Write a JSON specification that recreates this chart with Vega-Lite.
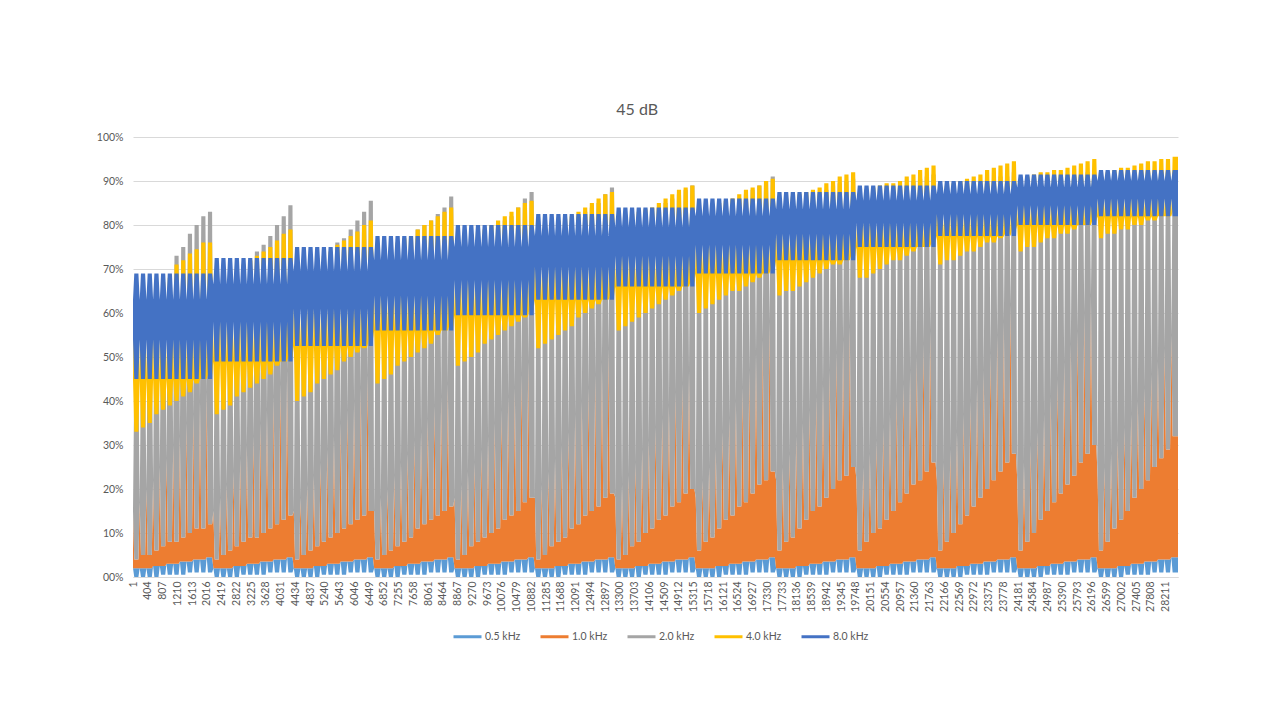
{
  "$schema": "https://vega.github.io/schema/vega-lite/v6.json",
  "description": "45 dB: five frequency series drawn as dense bands; per cycle one gap row and two full rows.",
  "width": 1045,
  "height": 440,
  "autosize": {"type": "none"},
  "padding": {"left": 133, "top": 137, "right": 102, "bottom": 143},
  "title": {"text": "45 dB", "anchor": "middle", "frame": "bounds", "fontSize": 16, "font": "Lato", "fontWeight": "normal", "color": "#595959", "offset": 14},
  "data": {"values": [
{"i":1,"a":2,"A":2,"B":15,"C":15,"d":45,"D":45,"e":54,"E":63},
{"i":36,"a":0,"A":2,"B":4,"C":45,"d":33,"D":64,"e":45,"E":69},
{"i":149,"a":0,"A":2,"B":4,"C":45,"d":33,"D":64,"e":45,"E":69},
{"i":184,"a":2,"A":2,"B":17,"C":17,"d":45,"D":45,"e":54,"E":63},
{"i":219,"a":0,"A":2,"B":5,"C":48,"d":34,"D":64.5,"e":45,"E":69},
{"i":332,"a":0,"A":2,"B":5,"C":48,"d":34,"D":64.5,"e":45,"E":69},
{"i":367,"a":2,"A":2,"B":20,"C":20,"d":45,"D":45,"e":54,"E":63},
{"i":402,"a":0,"A":2,"B":5,"C":52,"d":35,"D":65,"e":45,"E":69},
{"i":515,"a":0,"A":2,"B":5,"C":52,"d":35,"D":65,"e":45,"E":69},
{"i":550,"a":2.5,"A":2.5,"B":22,"C":22,"d":45,"D":45,"e":54,"E":63},
{"i":585,"a":0,"A":2.5,"B":6,"C":55,"d":37,"D":66,"e":45,"E":69},
{"i":698,"a":0,"A":2.5,"B":6,"C":55,"d":37,"D":66,"e":45,"E":69},
{"i":733,"a":2.5,"A":2.5,"B":25,"C":25,"d":45,"D":45,"e":54,"E":63},
{"i":768,"a":0.5,"A":2.5,"B":7,"C":59,"d":38,"D":67,"e":45,"E":69},
{"i":881,"a":0.5,"A":2.5,"B":7,"C":59,"d":38,"D":67,"e":45,"E":69},
{"i":916,"a":3,"A":3,"B":27,"C":27,"d":45,"D":45,"e":54,"E":63},
{"i":951,"a":0.5,"A":3,"B":8,"C":62,"d":39,"D":68,"e":45,"E":69},
{"i":1064,"a":0.5,"A":3,"B":8,"C":62,"d":39,"D":68,"e":45,"E":69},
{"i":1099,"a":3,"A":3,"B":30,"C":30,"d":45,"D":45,"e":54,"E":63},
{"i":1134,"a":0.5,"A":3,"B":8,"C":73,"d":40,"D":71,"e":45,"E":69},
{"i":1247,"a":0.5,"A":3,"B":8,"C":73,"d":40,"D":71,"e":45,"E":69},
{"i":1282,"a":3.5,"A":3.5,"B":32,"C":32,"d":45,"D":45,"e":54,"E":63},
{"i":1317,"a":0.5,"A":3.5,"B":9,"C":75,"d":41,"D":72,"e":45,"E":69},
{"i":1430,"a":0.5,"A":3.5,"B":9,"C":75,"d":41,"D":72,"e":45,"E":69},
{"i":1465,"a":3.5,"A":3.5,"B":35,"C":35,"d":45,"D":45,"e":54,"E":63},
{"i":1500,"a":1,"A":3.5,"B":10,"C":78,"d":42,"D":73.5,"e":45,"E":69},
{"i":1613,"a":1,"A":3.5,"B":10,"C":78,"d":42,"D":73.5,"e":45,"E":69},
{"i":1648,"a":4,"A":4,"B":37,"C":37,"d":45,"D":45,"e":54,"E":63},
{"i":1683,"a":1,"A":4,"B":11,"C":80,"d":44,"D":74.5,"e":45,"E":69},
{"i":1796,"a":1,"A":4,"B":11,"C":80,"d":44,"D":74.5,"e":45,"E":69},
{"i":1831,"a":4,"A":4,"B":40,"C":40,"d":45,"D":45,"e":54,"E":63},
{"i":1866,"a":1,"A":4,"B":11,"C":82,"d":45,"D":76,"e":45,"E":69},
{"i":1979,"a":1,"A":4,"B":11,"C":82,"d":45,"D":76,"e":45,"E":69},
{"i":2014,"a":4.5,"A":4.5,"B":42,"C":42,"d":45,"D":45,"e":54,"E":63},
{"i":2049,"a":1,"A":4.5,"B":12,"C":83,"d":46,"D":76,"e":45,"E":69},
{"i":2162,"a":1,"A":4.5,"B":12,"C":83,"d":46,"D":76,"e":45,"E":69},

{"i":2197,"a":2,"A":2,"B":15,"C":15,"d":49,"D":49,"e":58,"E":66.5},
{"i":2232,"a":0,"A":2,"B":4,"C":49,"d":37,"D":68,"e":49,"E":72.5},
{"i":2345,"a":0,"A":2,"B":4,"C":49,"d":37,"D":68,"e":49,"E":72.5},
{"i":2380,"a":2,"A":2,"B":18,"C":18,"d":49,"D":49,"e":58,"E":66.5},
{"i":2415,"a":0,"A":2,"B":5,"C":52,"d":38,"D":68.5,"e":49,"E":72.5},
{"i":2528,"a":0,"A":2,"B":5,"C":52,"d":38,"D":68.5,"e":49,"E":72.5},
{"i":2563,"a":2,"A":2,"B":21,"C":21,"d":49,"D":49,"e":58,"E":66.5},
{"i":2598,"a":0,"A":2,"B":6,"C":55,"d":39,"D":69,"e":49,"E":72.5},
{"i":2711,"a":0,"A":2,"B":6,"C":55,"d":39,"D":69,"e":49,"E":72.5},
{"i":2746,"a":2.5,"A":2.5,"B":24,"C":24,"d":49,"D":49,"e":58,"E":66.5},
{"i":2781,"a":0,"A":2.5,"B":7,"C":59,"d":41,"D":70,"e":49,"E":72.5},
{"i":2894,"a":0,"A":2.5,"B":7,"C":59,"d":41,"D":70,"e":49,"E":72.5},
{"i":2929,"a":2.5,"A":2.5,"B":27,"C":27,"d":49,"D":49,"e":58,"E":66.5},
{"i":2964,"a":0.5,"A":2.5,"B":8,"C":62,"d":42,"D":71,"e":49,"E":72.5},
{"i":3077,"a":0.5,"A":2.5,"B":8,"C":62,"d":42,"D":71,"e":49,"E":72.5},
{"i":3112,"a":3,"A":3,"B":30,"C":30,"d":49,"D":49,"e":58,"E":66.5},
{"i":3147,"a":0.5,"A":3,"B":9,"C":65,"d":43,"D":72,"e":49,"E":72.5},
{"i":3260,"a":0.5,"A":3,"B":9,"C":65,"d":43,"D":72,"e":49,"E":72.5},
{"i":3295,"a":3,"A":3,"B":32,"C":32,"d":49,"D":49,"e":58,"E":66.5},
{"i":3330,"a":0.5,"A":3,"B":9,"C":74,"d":44,"D":73,"e":49,"E":72.5},
{"i":3443,"a":0.5,"A":3,"B":9,"C":74,"d":44,"D":73,"e":49,"E":72.5},
{"i":3478,"a":3.5,"A":3.5,"B":35,"C":35,"d":49,"D":49,"e":58,"E":66.5},
{"i":3513,"a":0.5,"A":3.5,"B":10,"C":75.5,"d":45,"D":74,"e":49,"E":72.5},
{"i":3626,"a":0.5,"A":3.5,"B":10,"C":75.5,"d":45,"D":74,"e":49,"E":72.5},
{"i":3661,"a":3.5,"A":3.5,"B":38,"C":38,"d":49,"D":49,"e":58,"E":66.5},
{"i":3696,"a":1,"A":3.5,"B":11,"C":77.5,"d":46,"D":75,"e":49,"E":72.5},
{"i":3809,"a":1,"A":3.5,"B":11,"C":77.5,"d":46,"D":75,"e":49,"E":72.5},
{"i":3844,"a":4,"A":4,"B":41,"C":41,"d":49,"D":49,"e":58,"E":66.5},
{"i":3879,"a":1,"A":4,"B":12,"C":80,"d":48,"D":76.5,"e":49,"E":72.5},
{"i":3992,"a":1,"A":4,"B":12,"C":80,"d":48,"D":76.5,"e":49,"E":72.5},
{"i":4027,"a":4,"A":4,"B":44,"C":44,"d":49,"D":49,"e":58,"E":66.5},
{"i":4062,"a":1,"A":4,"B":13,"C":82,"d":49,"D":78,"e":49,"E":72.5},
{"i":4175,"a":1,"A":4,"B":13,"C":82,"d":49,"D":78,"e":49,"E":72.5},
{"i":4210,"a":4.5,"A":4.5,"B":47,"C":47,"d":49,"D":49,"e":58,"E":66.5},
{"i":4245,"a":1,"A":4.5,"B":14,"C":84.5,"d":50,"D":79,"e":49,"E":72.5},
{"i":4358,"a":1,"A":4.5,"B":14,"C":84.5,"d":50,"D":79,"e":49,"E":72.5},

{"i":4393,"a":2,"A":2,"B":15,"C":15,"d":52.5,"D":52.5,"e":61,"E":69.5},
{"i":4428,"a":0,"A":2,"B":4,"C":52,"d":40,"D":70,"e":52.5,"E":75},
{"i":4541,"a":0,"A":2,"B":4,"C":52,"d":40,"D":70,"e":52.5,"E":75},
{"i":4576,"a":2,"A":2,"B":18,"C":18,"d":52.5,"D":52.5,"e":61,"E":69.5},
{"i":4611,"a":0,"A":2,"B":5,"C":55,"d":41,"D":71,"e":52.5,"E":75},
{"i":4724,"a":0,"A":2,"B":5,"C":55,"d":41,"D":71,"e":52.5,"E":75},
{"i":4759,"a":2,"A":2,"B":21,"C":21,"d":52.5,"D":52.5,"e":61,"E":69.5},
{"i":4794,"a":0,"A":2,"B":6,"C":58,"d":42,"D":72,"e":52.5,"E":75},
{"i":4907,"a":0,"A":2,"B":6,"C":58,"d":42,"D":72,"e":52.5,"E":75},
{"i":4942,"a":2.5,"A":2.5,"B":23,"C":23,"d":52.5,"D":52.5,"e":61,"E":69.5},
{"i":4977,"a":0,"A":2.5,"B":7,"C":61,"d":44,"D":72.5,"e":52.5,"E":75},
{"i":5090,"a":0,"A":2.5,"B":7,"C":61,"d":44,"D":72.5,"e":52.5,"E":75},
{"i":5125,"a":2.5,"A":2.5,"B":26,"C":26,"d":52.5,"D":52.5,"e":61,"E":69.5},
{"i":5160,"a":0.5,"A":2.5,"B":8,"C":64,"d":45,"D":73,"e":52.5,"E":75},
{"i":5273,"a":0.5,"A":2.5,"B":8,"C":64,"d":45,"D":73,"e":52.5,"E":75},
{"i":5308,"a":3,"A":3,"B":29,"C":29,"d":52.5,"D":52.5,"e":61,"E":69.5},
{"i":5343,"a":0.5,"A":3,"B":9,"C":67,"d":46,"D":74,"e":52.5,"E":75},
{"i":5456,"a":0.5,"A":3,"B":9,"C":67,"d":46,"D":74,"e":52.5,"E":75},
{"i":5491,"a":3,"A":3,"B":32,"C":32,"d":52.5,"D":52.5,"e":61,"E":69.5},
{"i":5526,"a":0.5,"A":3,"B":10,"C":76,"d":47,"D":75.5,"e":52.5,"E":75},
{"i":5639,"a":0.5,"A":3,"B":10,"C":76,"d":47,"D":75.5,"e":52.5,"E":75},
{"i":5674,"a":3.5,"A":3.5,"B":35,"C":35,"d":52.5,"D":52.5,"e":61,"E":69.5},
{"i":5709,"a":0.5,"A":3.5,"B":11,"C":77,"d":49,"D":76.5,"e":52.5,"E":75},
{"i":5822,"a":0.5,"A":3.5,"B":11,"C":77,"d":49,"D":76.5,"e":52.5,"E":75},
{"i":5857,"a":3.5,"A":3.5,"B":38,"C":38,"d":52.5,"D":52.5,"e":61,"E":69.5},
{"i":5892,"a":1,"A":3.5,"B":12,"C":79,"d":50,"D":77.5,"e":52.5,"E":75},
{"i":6005,"a":1,"A":3.5,"B":12,"C":79,"d":50,"D":77.5,"e":52.5,"E":75},
{"i":6040,"a":4,"A":4,"B":40,"C":40,"d":52.5,"D":52.5,"e":61,"E":69.5},
{"i":6075,"a":1,"A":4,"B":13,"C":81,"d":51,"D":78.5,"e":52.5,"E":75},
{"i":6188,"a":1,"A":4,"B":13,"C":81,"d":51,"D":78.5,"e":52.5,"E":75},
{"i":6223,"a":4,"A":4,"B":43,"C":43,"d":52.5,"D":52.5,"e":61,"E":69.5},
{"i":6258,"a":1,"A":4,"B":14,"C":83,"d":52,"D":80,"e":52.5,"E":75},
{"i":6371,"a":1,"A":4,"B":14,"C":83,"d":52,"D":80,"e":52.5,"E":75},
{"i":6406,"a":4.5,"A":4.5,"B":46,"C":46,"d":52.5,"D":52.5,"e":61,"E":69.5},
{"i":6441,"a":1,"A":4.5,"B":15,"C":85.5,"d":54,"D":81,"e":52.5,"E":75},
{"i":6554,"a":1,"A":4.5,"B":15,"C":85.5,"d":54,"D":81,"e":52.5,"E":75},

{"i":6589,"a":2,"A":2,"B":15,"C":15,"d":56,"D":56,"e":64,"E":72},
{"i":6624,"a":0,"A":2,"B":4,"C":56,"d":44,"D":73,"e":56,"E":77.5},
{"i":6737,"a":0,"A":2,"B":4,"C":56,"d":44,"D":73,"e":56,"E":77.5},
{"i":6772,"a":2,"A":2,"B":18,"C":18,"d":56,"D":56,"e":64,"E":72},
{"i":6807,"a":0,"A":2,"B":5,"C":59,"d":45,"D":74,"e":56,"E":77.5},
{"i":6920,"a":0,"A":2,"B":5,"C":59,"d":45,"D":74,"e":56,"E":77.5},
{"i":6955,"a":2,"A":2,"B":20,"C":20,"d":56,"D":56,"e":64,"E":72},
{"i":6990,"a":0,"A":2,"B":6,"C":62,"d":46,"D":75,"e":56,"E":77.5},
{"i":7103,"a":0,"A":2,"B":6,"C":62,"d":46,"D":75,"e":56,"E":77.5},
{"i":7138,"a":2.5,"A":2.5,"B":23,"C":23,"d":56,"D":56,"e":64,"E":72},
{"i":7173,"a":0,"A":2.5,"B":7,"C":64,"d":48,"D":76,"e":56,"E":77.5},
{"i":7286,"a":0,"A":2.5,"B":7,"C":64,"d":48,"D":76,"e":56,"E":77.5},
{"i":7321,"a":2.5,"A":2.5,"B":26,"C":26,"d":56,"D":56,"e":64,"E":72},
{"i":7356,"a":0.5,"A":2.5,"B":8,"C":67,"d":49,"D":77,"e":56,"E":77.5},
{"i":7469,"a":0.5,"A":2.5,"B":8,"C":67,"d":49,"D":77,"e":56,"E":77.5},
{"i":7504,"a":3,"A":3,"B":28,"C":28,"d":56,"D":56,"e":64,"E":72},
{"i":7539,"a":0.5,"A":3,"B":9,"C":70,"d":50,"D":77.5,"e":56,"E":77.5},
{"i":7652,"a":0.5,"A":3,"B":9,"C":70,"d":50,"D":77.5,"e":56,"E":77.5},
{"i":7687,"a":3,"A":3,"B":31,"C":31,"d":56,"D":56,"e":64,"E":72},
{"i":7722,"a":0.5,"A":3,"B":11,"C":79,"d":51,"D":79,"e":56,"E":77.5},
{"i":7835,"a":0.5,"A":3,"B":11,"C":79,"d":51,"D":79,"e":56,"E":77.5},
{"i":7870,"a":3.5,"A":3.5,"B":33,"C":33,"d":56,"D":56,"e":64,"E":72},
{"i":7905,"a":0.5,"A":3.5,"B":12,"C":80,"d":52,"D":80,"e":56,"E":77.5},
{"i":8018,"a":0.5,"A":3.5,"B":12,"C":80,"d":52,"D":80,"e":56,"E":77.5},
{"i":8053,"a":3.5,"A":3.5,"B":36,"C":36,"d":56,"D":56,"e":64,"E":72},
{"i":8088,"a":1,"A":3.5,"B":13,"C":81,"d":53,"D":81,"e":56,"E":77.5},
{"i":8201,"a":1,"A":3.5,"B":13,"C":81,"d":53,"D":81,"e":56,"E":77.5},
{"i":8236,"a":4,"A":4,"B":39,"C":39,"d":56,"D":56,"e":64,"E":72},
{"i":8271,"a":1,"A":4,"B":14,"C":82.5,"d":55,"D":82,"e":56,"E":77.5},
{"i":8384,"a":1,"A":4,"B":14,"C":82.5,"d":55,"D":82,"e":56,"E":77.5},
{"i":8419,"a":4,"A":4,"B":41,"C":41,"d":56,"D":56,"e":64,"E":72},
{"i":8454,"a":1,"A":4,"B":15,"C":84,"d":56,"D":83,"e":56,"E":77.5},
{"i":8567,"a":1,"A":4,"B":15,"C":84,"d":56,"D":83,"e":56,"E":77.5},
{"i":8602,"a":4.5,"A":4.5,"B":44,"C":44,"d":56,"D":56,"e":64,"E":72},
{"i":8637,"a":1,"A":4.5,"B":16,"C":86.5,"d":57,"D":84,"e":56,"E":77.5},
{"i":8750,"a":1,"A":4.5,"B":16,"C":86.5,"d":57,"D":84,"e":56,"E":77.5},

{"i":8785,"a":2,"A":2,"B":18,"C":18,"d":59.5,"D":59.5,"e":67.5,"E":75},
{"i":8820,"a":0,"A":2,"B":4,"C":60,"d":48,"D":76,"e":59.5,"E":80},
{"i":8933,"a":0,"A":2,"B":4,"C":60,"d":48,"D":76,"e":59.5,"E":80},
{"i":8968,"a":2,"A":2,"B":21,"C":21,"d":59.5,"D":59.5,"e":67.5,"E":75},
{"i":9003,"a":0,"A":2,"B":5,"C":62,"d":49,"D":77,"e":59.5,"E":80},
{"i":9116,"a":0,"A":2,"B":5,"C":62,"d":49,"D":77,"e":59.5,"E":80},
{"i":9151,"a":2,"A":2,"B":24,"C":24,"d":59.5,"D":59.5,"e":67.5,"E":75},
{"i":9186,"a":0,"A":2,"B":7,"C":65,"d":50,"D":78,"e":59.5,"E":80},
{"i":9299,"a":0,"A":2,"B":7,"C":65,"d":50,"D":78,"e":59.5,"E":80},
{"i":9334,"a":2.5,"A":2.5,"B":26,"C":26,"d":59.5,"D":59.5,"e":67.5,"E":75},
{"i":9369,"a":0,"A":2.5,"B":8,"C":67,"d":51,"D":78.5,"e":59.5,"E":80},
{"i":9482,"a":0,"A":2.5,"B":8,"C":67,"d":51,"D":78.5,"e":59.5,"E":80},
{"i":9517,"a":2.5,"A":2.5,"B":29,"C":29,"d":59.5,"D":59.5,"e":67.5,"E":75},
{"i":9552,"a":0.5,"A":2.5,"B":9,"C":70,"d":53,"D":79,"e":59.5,"E":80},
{"i":9665,"a":0.5,"A":2.5,"B":9,"C":70,"d":53,"D":79,"e":59.5,"E":80},
{"i":9700,"a":3,"A":3,"B":32,"C":32,"d":59.5,"D":59.5,"e":67.5,"E":75},
{"i":9735,"a":0.5,"A":3,"B":10,"C":72,"d":54,"D":80,"e":59.5,"E":80},
{"i":9848,"a":0.5,"A":3,"B":10,"C":72,"d":54,"D":80,"e":59.5,"E":80},
{"i":9883,"a":3,"A":3,"B":35,"C":35,"d":59.5,"D":59.5,"e":67.5,"E":75},
{"i":9918,"a":0.5,"A":3,"B":11,"C":80,"d":55,"D":81,"e":59.5,"E":80},
{"i":10031,"a":0.5,"A":3,"B":11,"C":80,"d":55,"D":81,"e":59.5,"E":80},
{"i":10066,"a":3.5,"A":3.5,"B":38,"C":38,"d":59.5,"D":59.5,"e":67.5,"E":75},
{"i":10101,"a":0.5,"A":3.5,"B":13,"C":81,"d":56,"D":82,"e":59.5,"E":80},
{"i":10214,"a":0.5,"A":3.5,"B":13,"C":81,"d":56,"D":82,"e":59.5,"E":80},
{"i":10249,"a":3.5,"A":3.5,"B":41,"C":41,"d":59.5,"D":59.5,"e":67.5,"E":75},
{"i":10284,"a":1,"A":3.5,"B":14,"C":82,"d":57,"D":83,"e":59.5,"E":80},
{"i":10397,"a":1,"A":3.5,"B":14,"C":82,"d":57,"D":83,"e":59.5,"E":80},
{"i":10432,"a":4,"A":4,"B":43,"C":43,"d":59.5,"D":59.5,"e":67.5,"E":75},
{"i":10467,"a":1,"A":4,"B":15,"C":84,"d":58,"D":84,"e":59.5,"E":80},
{"i":10580,"a":1,"A":4,"B":15,"C":84,"d":58,"D":84,"e":59.5,"E":80},
{"i":10615,"a":4,"A":4,"B":46,"C":46,"d":59.5,"D":59.5,"e":67.5,"E":75},
{"i":10650,"a":1,"A":4,"B":17,"C":86,"d":59,"D":85,"e":59.5,"E":80},
{"i":10763,"a":1,"A":4,"B":17,"C":86,"d":59,"D":85,"e":59.5,"E":80},
{"i":10798,"a":4.5,"A":4.5,"B":49,"C":49,"d":59.5,"D":59.5,"e":67.5,"E":75},
{"i":10833,"a":1,"A":4.5,"B":18,"C":87.5,"d":61,"D":85.5,"e":59.5,"E":80},
{"i":10946,"a":1,"A":4.5,"B":18,"C":87.5,"d":61,"D":85.5,"e":59.5,"E":80},

{"i":10981,"a":2,"A":2,"B":18,"C":18,"d":63,"D":63,"e":70.5,"E":77.5},
{"i":11016,"a":0,"A":2,"B":4,"C":64,"d":52,"D":79,"e":63,"E":82.5},
{"i":11129,"a":0,"A":2,"B":4,"C":64,"d":52,"D":79,"e":63,"E":82.5},
{"i":11164,"a":2,"A":2,"B":21,"C":21,"d":63,"D":63,"e":70.5,"E":77.5},
{"i":11199,"a":0,"A":2,"B":5,"C":66,"d":53,"D":80,"e":63,"E":82.5},
{"i":11312,"a":0,"A":2,"B":5,"C":66,"d":53,"D":80,"e":63,"E":82.5},
{"i":11347,"a":2,"A":2,"B":24,"C":24,"d":63,"D":63,"e":70.5,"E":77.5},
{"i":11382,"a":0,"A":2,"B":7,"C":68,"d":54,"D":80.5,"e":63,"E":82.5},
{"i":11495,"a":0,"A":2,"B":7,"C":68,"d":54,"D":80.5,"e":63,"E":82.5},
{"i":11530,"a":2.5,"A":2.5,"B":27,"C":27,"d":63,"D":63,"e":70.5,"E":77.5},
{"i":11565,"a":0,"A":2.5,"B":8,"C":71,"d":55,"D":81,"e":63,"E":82.5},
{"i":11678,"a":0,"A":2.5,"B":8,"C":71,"d":55,"D":81,"e":63,"E":82.5},
{"i":11713,"a":2.5,"A":2.5,"B":30,"C":30,"d":63,"D":63,"e":70.5,"E":77.5},
{"i":11748,"a":0.5,"A":2.5,"B":9,"C":73,"d":56,"D":81.5,"e":63,"E":82.5},
{"i":11861,"a":0.5,"A":2.5,"B":9,"C":73,"d":56,"D":81.5,"e":63,"E":82.5},
{"i":11896,"a":3,"A":3,"B":33,"C":33,"d":63,"D":63,"e":70.5,"E":77.5},
{"i":11931,"a":0.5,"A":3,"B":11,"C":75,"d":57,"D":82,"e":63,"E":82.5},
{"i":12044,"a":0.5,"A":3,"B":11,"C":75,"d":57,"D":82,"e":63,"E":82.5},
{"i":12079,"a":3,"A":3,"B":37,"C":37,"d":63,"D":63,"e":70.5,"E":77.5},
{"i":12114,"a":0.5,"A":3,"B":12,"C":82,"d":59,"D":83,"e":63,"E":82.5},
{"i":12227,"a":0.5,"A":3,"B":12,"C":82,"d":59,"D":83,"e":63,"E":82.5},
{"i":12262,"a":3.5,"A":3.5,"B":40,"C":40,"d":63,"D":63,"e":70.5,"E":77.5},
{"i":12297,"a":0.5,"A":3.5,"B":14,"C":83,"d":60,"D":84,"e":63,"E":82.5},
{"i":12410,"a":0.5,"A":3.5,"B":14,"C":83,"d":60,"D":84,"e":63,"E":82.5},
{"i":12445,"a":3.5,"A":3.5,"B":43,"C":43,"d":63,"D":63,"e":70.5,"E":77.5},
{"i":12480,"a":1,"A":3.5,"B":15,"C":84,"d":61,"D":85,"e":63,"E":82.5},
{"i":12593,"a":1,"A":3.5,"B":15,"C":84,"d":61,"D":85,"e":63,"E":82.5},
{"i":12628,"a":4,"A":4,"B":46,"C":46,"d":63,"D":63,"e":70.5,"E":77.5},
{"i":12663,"a":1,"A":4,"B":16,"C":85,"d":62,"D":86,"e":63,"E":82.5},
{"i":12776,"a":1,"A":4,"B":16,"C":85,"d":62,"D":86,"e":63,"E":82.5},
{"i":12811,"a":4,"A":4,"B":49,"C":49,"d":63,"D":63,"e":70.5,"E":77.5},
{"i":12846,"a":1,"A":4,"B":18,"C":87,"d":63,"D":87,"e":63,"E":82.5},
{"i":12959,"a":1,"A":4,"B":18,"C":87,"d":63,"D":87,"e":63,"E":82.5},
{"i":12994,"a":4.5,"A":4.5,"B":52,"C":52,"d":63,"D":63,"e":70.5,"E":77.5},
{"i":13029,"a":1,"A":4.5,"B":19,"C":88.5,"d":64,"D":87.5,"e":63,"E":82.5},
{"i":13142,"a":1,"A":4.5,"B":19,"C":88.5,"d":64,"D":87.5,"e":63,"E":82.5},

{"i":13177,"a":2,"A":2,"B":18,"C":18,"d":66,"D":66,"e":73,"E":79.5},
{"i":13212,"a":0,"A":2,"B":4,"C":68,"d":56,"D":81,"e":66,"E":84},
{"i":13325,"a":0,"A":2,"B":4,"C":68,"d":56,"D":81,"e":66,"E":84},
{"i":13360,"a":2,"A":2,"B":21,"C":21,"d":66,"D":66,"e":73,"E":79.5},
{"i":13395,"a":0,"A":2,"B":5,"C":70,"d":57,"D":82,"e":66,"E":84},
{"i":13508,"a":0,"A":2,"B":5,"C":70,"d":57,"D":82,"e":66,"E":84},
{"i":13543,"a":2,"A":2,"B":23,"C":23,"d":66,"D":66,"e":73,"E":79.5},
{"i":13578,"a":0,"A":2,"B":7,"C":72,"d":58,"D":82.5,"e":66,"E":84},
{"i":13691,"a":0,"A":2,"B":7,"C":72,"d":58,"D":82.5,"e":66,"E":84},
{"i":13726,"a":2.5,"A":2.5,"B":26,"C":26,"d":66,"D":66,"e":73,"E":79.5},
{"i":13761,"a":0,"A":2.5,"B":8,"C":74,"d":59,"D":83,"e":66,"E":84},
{"i":13874,"a":0,"A":2.5,"B":8,"C":74,"d":59,"D":83,"e":66,"E":84},
{"i":13909,"a":2.5,"A":2.5,"B":29,"C":29,"d":66,"D":66,"e":73,"E":79.5},
{"i":13944,"a":0.5,"A":2.5,"B":10,"C":76,"d":60,"D":83.5,"e":66,"E":84},
{"i":14057,"a":0.5,"A":2.5,"B":10,"C":76,"d":60,"D":83.5,"e":66,"E":84},
{"i":14092,"a":3,"A":3,"B":31,"C":31,"d":66,"D":66,"e":73,"E":79.5},
{"i":14127,"a":0.5,"A":3,"B":11,"C":78,"d":61,"D":84,"e":66,"E":84},
{"i":14240,"a":0.5,"A":3,"B":11,"C":78,"d":61,"D":84,"e":66,"E":84},
{"i":14275,"a":3,"A":3,"B":34,"C":34,"d":66,"D":66,"e":73,"E":79.5},
{"i":14310,"a":0.5,"A":3,"B":13,"C":84,"d":62,"D":85,"e":66,"E":84},
{"i":14423,"a":0.5,"A":3,"B":13,"C":84,"d":62,"D":85,"e":66,"E":84},
{"i":14458,"a":3.5,"A":3.5,"B":36,"C":36,"d":66,"D":66,"e":73,"E":79.5},
{"i":14493,"a":0.5,"A":3.5,"B":14,"C":85,"d":63,"D":86,"e":66,"E":84},
{"i":14606,"a":0.5,"A":3.5,"B":14,"C":85,"d":63,"D":86,"e":66,"E":84},
{"i":14641,"a":3.5,"A":3.5,"B":39,"C":39,"d":66,"D":66,"e":73,"E":79.5},
{"i":14676,"a":1,"A":3.5,"B":16,"C":86,"d":64,"D":87,"e":66,"E":84},
{"i":14789,"a":1,"A":3.5,"B":16,"C":86,"d":64,"D":87,"e":66,"E":84},
{"i":14824,"a":4,"A":4,"B":42,"C":42,"d":66,"D":66,"e":73,"E":79.5},
{"i":14859,"a":1,"A":4,"B":17,"C":87,"d":65,"D":88,"e":66,"E":84},
{"i":14972,"a":1,"A":4,"B":17,"C":87,"d":65,"D":88,"e":66,"E":84},
{"i":15007,"a":4,"A":4,"B":44,"C":44,"d":66,"D":66,"e":73,"E":79.5},
{"i":15042,"a":1,"A":4,"B":19,"C":88,"d":66,"D":88.5,"e":66,"E":84},
{"i":15155,"a":1,"A":4,"B":19,"C":88,"d":66,"D":88.5,"e":66,"E":84},
{"i":15190,"a":4.5,"A":4.5,"B":47,"C":47,"d":66,"D":66,"e":73,"E":79.5},
{"i":15225,"a":1,"A":4.5,"B":20,"C":89,"d":67,"D":89,"e":66,"E":84},
{"i":15338,"a":1,"A":4.5,"B":20,"C":89,"d":67,"D":89,"e":66,"E":84},

{"i":15373,"a":2,"A":2,"B":18,"C":18,"d":69,"D":69,"e":75.5,"E":82},
{"i":15408,"a":0,"A":2,"B":6,"C":72,"d":60,"D":83,"e":69,"E":86},
{"i":15521,"a":0,"A":2,"B":6,"C":72,"d":60,"D":83,"e":69,"E":86},
{"i":15556,"a":2,"A":2,"B":22,"C":22,"d":69,"D":69,"e":75.5,"E":82},
{"i":15591,"a":0,"A":2,"B":8,"C":74,"d":61,"D":84,"e":69,"E":86},
{"i":15704,"a":0,"A":2,"B":8,"C":74,"d":61,"D":84,"e":69,"E":86},
{"i":15739,"a":2,"A":2,"B":25,"C":25,"d":69,"D":69,"e":75.5,"E":82},
{"i":15774,"a":0,"A":2,"B":9,"C":75,"d":62,"D":84.5,"e":69,"E":86},
{"i":15887,"a":0,"A":2,"B":9,"C":75,"d":62,"D":84.5,"e":69,"E":86},
{"i":15922,"a":2.5,"A":2.5,"B":29,"C":29,"d":69,"D":69,"e":75.5,"E":82},
{"i":15957,"a":0,"A":2.5,"B":11,"C":77,"d":63,"D":85,"e":69,"E":86},
{"i":16070,"a":0,"A":2.5,"B":11,"C":77,"d":63,"D":85,"e":69,"E":86},
{"i":16105,"a":2.5,"A":2.5,"B":33,"C":33,"d":69,"D":69,"e":75.5,"E":82},
{"i":16140,"a":0.5,"A":2.5,"B":13,"C":78,"d":64,"D":85.5,"e":69,"E":86},
{"i":16253,"a":0.5,"A":2.5,"B":13,"C":78,"d":64,"D":85.5,"e":69,"E":86},
{"i":16288,"a":3,"A":3,"B":36,"C":36,"d":69,"D":69,"e":75.5,"E":82},
{"i":16323,"a":0.5,"A":3,"B":14,"C":80,"d":65,"D":86,"e":69,"E":86},
{"i":16436,"a":0.5,"A":3,"B":14,"C":80,"d":65,"D":86,"e":69,"E":86},
{"i":16471,"a":3,"A":3,"B":40,"C":40,"d":69,"D":69,"e":75.5,"E":82},
{"i":16506,"a":0.5,"A":3,"B":16,"C":86,"d":65,"D":87,"e":69,"E":86},
{"i":16619,"a":0.5,"A":3,"B":16,"C":86,"d":65,"D":87,"e":69,"E":86},
{"i":16654,"a":3.5,"A":3.5,"B":43,"C":43,"d":69,"D":69,"e":75.5,"E":82},
{"i":16689,"a":0.5,"A":3.5,"B":17,"C":87,"d":66,"D":88,"e":69,"E":86},
{"i":16802,"a":0.5,"A":3.5,"B":17,"C":87,"d":66,"D":88,"e":69,"E":86},
{"i":16837,"a":3.5,"A":3.5,"B":47,"C":47,"d":69,"D":69,"e":75.5,"E":82},
{"i":16872,"a":1,"A":3.5,"B":19,"C":88,"d":67,"D":88.5,"e":69,"E":86},
{"i":16985,"a":1,"A":3.5,"B":19,"C":88,"d":67,"D":88.5,"e":69,"E":86},
{"i":17020,"a":4,"A":4,"B":51,"C":51,"d":69,"D":69,"e":75.5,"E":82},
{"i":17055,"a":1,"A":4,"B":21,"C":89,"d":68,"D":89,"e":69,"E":86},
{"i":17168,"a":1,"A":4,"B":21,"C":89,"d":68,"D":89,"e":69,"E":86},
{"i":17203,"a":4,"A":4,"B":54,"C":54,"d":69,"D":69,"e":75.5,"E":82},
{"i":17238,"a":1,"A":4,"B":22,"C":90,"d":69,"D":90,"e":69,"E":86},
{"i":17351,"a":1,"A":4,"B":22,"C":90,"d":69,"D":90,"e":69,"E":86},
{"i":17386,"a":4.5,"A":4.5,"B":58,"C":58,"d":69,"D":69,"e":75.5,"E":82},
{"i":17421,"a":1,"A":4.5,"B":24,"C":91,"d":70,"D":90.5,"e":69,"E":86},
{"i":17534,"a":1,"A":4.5,"B":24,"C":91,"d":70,"D":90.5,"e":69,"E":86},

{"i":17569,"a":2,"A":2,"B":22,"C":22,"d":72,"D":72,"e":78,"E":83.5},
{"i":17604,"a":0,"A":2,"B":6,"C":76,"d":64,"D":85,"e":72,"E":87.5},
{"i":17717,"a":0,"A":2,"B":6,"C":76,"d":64,"D":85,"e":72,"E":87.5},
{"i":17752,"a":2,"A":2,"B":25,"C":25,"d":72,"D":72,"e":78,"E":83.5},
{"i":17787,"a":0,"A":2,"B":8,"C":77,"d":65,"D":86,"e":72,"E":87.5},
{"i":17900,"a":0,"A":2,"B":8,"C":77,"d":65,"D":86,"e":72,"E":87.5},
{"i":17935,"a":2,"A":2,"B":28,"C":28,"d":72,"D":72,"e":78,"E":83.5},
{"i":17970,"a":0,"A":2,"B":9,"C":79,"d":65,"D":86.5,"e":72,"E":87.5},
{"i":18083,"a":0,"A":2,"B":9,"C":79,"d":65,"D":86.5,"e":72,"E":87.5},
{"i":18118,"a":2.5,"A":2.5,"B":32,"C":32,"d":72,"D":72,"e":78,"E":83.5},
{"i":18153,"a":0,"A":2.5,"B":11,"C":80,"d":66,"D":87,"e":72,"E":87.5},
{"i":18266,"a":0,"A":2.5,"B":11,"C":80,"d":66,"D":87,"e":72,"E":87.5},
{"i":18301,"a":2.5,"A":2.5,"B":35,"C":35,"d":72,"D":72,"e":78,"E":83.5},
{"i":18336,"a":0.5,"A":2.5,"B":13,"C":81,"d":67,"D":87.5,"e":72,"E":87.5},
{"i":18449,"a":0.5,"A":2.5,"B":13,"C":81,"d":67,"D":87.5,"e":72,"E":87.5},
{"i":18484,"a":3,"A":3,"B":38,"C":38,"d":72,"D":72,"e":78,"E":83.5},
{"i":18519,"a":0.5,"A":3,"B":15,"C":82,"d":68,"D":88,"e":72,"E":87.5},
{"i":18632,"a":0.5,"A":3,"B":15,"C":82,"d":68,"D":88,"e":72,"E":87.5},
{"i":18667,"a":3,"A":3,"B":41,"C":41,"d":72,"D":72,"e":78,"E":83.5},
{"i":18702,"a":0.5,"A":3,"B":16,"C":87,"d":69,"D":88.5,"e":72,"E":87.5},
{"i":18815,"a":0.5,"A":3,"B":16,"C":87,"d":69,"D":88.5,"e":72,"E":87.5},
{"i":18850,"a":3.5,"A":3.5,"B":44,"C":44,"d":72,"D":72,"e":78,"E":83.5},
{"i":18885,"a":0.5,"A":3.5,"B":18,"C":88,"d":70,"D":89.5,"e":72,"E":87.5},
{"i":18998,"a":0.5,"A":3.5,"B":18,"C":88,"d":70,"D":89.5,"e":72,"E":87.5},
{"i":19033,"a":3.5,"A":3.5,"B":47,"C":47,"d":72,"D":72,"e":78,"E":83.5},
{"i":19068,"a":1,"A":3.5,"B":20,"C":89,"d":71,"D":90,"e":72,"E":87.5},
{"i":19181,"a":1,"A":3.5,"B":20,"C":89,"d":71,"D":90,"e":72,"E":87.5},
{"i":19216,"a":4,"A":4,"B":51,"C":51,"d":72,"D":72,"e":78,"E":83.5},
{"i":19251,"a":1,"A":4,"B":22,"C":89.5,"d":71,"D":91,"e":72,"E":87.5},
{"i":19364,"a":1,"A":4,"B":22,"C":89.5,"d":71,"D":91,"e":72,"E":87.5},
{"i":19399,"a":4,"A":4,"B":54,"C":54,"d":72,"D":72,"e":78,"E":83.5},
{"i":19434,"a":1,"A":4,"B":23,"C":90,"d":72,"D":91.5,"e":72,"E":87.5},
{"i":19547,"a":1,"A":4,"B":23,"C":90,"d":72,"D":91.5,"e":72,"E":87.5},
{"i":19582,"a":4.5,"A":4.5,"B":57,"C":57,"d":72,"D":72,"e":78,"E":83.5},
{"i":19617,"a":1,"A":4.5,"B":25,"C":90.5,"d":73,"D":92,"e":72,"E":87.5},
{"i":19730,"a":1,"A":4.5,"B":25,"C":90.5,"d":73,"D":92,"e":72,"E":87.5},

{"i":19765,"a":2,"A":2,"B":22,"C":22,"d":75,"D":75,"e":80.5,"E":85.5},
{"i":19800,"a":0,"A":2,"B":6,"C":80,"d":68,"D":87,"e":75,"E":89},
{"i":19913,"a":0,"A":2,"B":6,"C":80,"d":68,"D":87,"e":75,"E":89},
{"i":19948,"a":2,"A":2,"B":25,"C":25,"d":75,"D":75,"e":80.5,"E":85.5},
{"i":19983,"a":0,"A":2,"B":8,"C":81,"d":68,"D":88,"e":75,"E":89},
{"i":20096,"a":0,"A":2,"B":8,"C":81,"d":68,"D":88,"e":75,"E":89},
{"i":20131,"a":2,"A":2,"B":28,"C":28,"d":75,"D":75,"e":80.5,"E":85.5},
{"i":20166,"a":0,"A":2,"B":10,"C":82,"d":69,"D":88.5,"e":75,"E":89},
{"i":20279,"a":0,"A":2,"B":10,"C":82,"d":69,"D":88.5,"e":75,"E":89},
{"i":20314,"a":2.5,"A":2.5,"B":31,"C":31,"d":75,"D":75,"e":80.5,"E":85.5},
{"i":20349,"a":0,"A":2.5,"B":11,"C":83,"d":70,"D":89,"e":75,"E":89},
{"i":20462,"a":0,"A":2.5,"B":11,"C":83,"d":70,"D":89,"e":75,"E":89},
{"i":20497,"a":2.5,"A":2.5,"B":34,"C":34,"d":75,"D":75,"e":80.5,"E":85.5},
{"i":20532,"a":0.5,"A":2.5,"B":13,"C":84,"d":71,"D":89.5,"e":75,"E":89},
{"i":20645,"a":0.5,"A":2.5,"B":13,"C":84,"d":71,"D":89.5,"e":75,"E":89},
{"i":20680,"a":3,"A":3,"B":37,"C":37,"d":75,"D":75,"e":80.5,"E":85.5},
{"i":20715,"a":0.5,"A":3,"B":15,"C":85,"d":72,"D":89.5,"e":75,"E":89},
{"i":20828,"a":0.5,"A":3,"B":15,"C":85,"d":72,"D":89.5,"e":75,"E":89},
{"i":20863,"a":3,"A":3,"B":41,"C":41,"d":75,"D":75,"e":80.5,"E":85.5},
{"i":20898,"a":0.5,"A":3,"B":17,"C":88,"d":72,"D":90,"e":75,"E":89},
{"i":21011,"a":0.5,"A":3,"B":17,"C":88,"d":72,"D":90,"e":75,"E":89},
{"i":21046,"a":3.5,"A":3.5,"B":44,"C":44,"d":75,"D":75,"e":80.5,"E":85.5},
{"i":21081,"a":0.5,"A":3.5,"B":19,"C":89,"d":73,"D":91,"e":75,"E":89},
{"i":21194,"a":0.5,"A":3.5,"B":19,"C":89,"d":73,"D":91,"e":75,"E":89},
{"i":21229,"a":3.5,"A":3.5,"B":47,"C":47,"d":75,"D":75,"e":80.5,"E":85.5},
{"i":21264,"a":1,"A":3.5,"B":21,"C":90,"d":74,"D":91.5,"e":75,"E":89},
{"i":21377,"a":1,"A":3.5,"B":21,"C":90,"d":74,"D":91.5,"e":75,"E":89},
{"i":21412,"a":4,"A":4,"B":50,"C":50,"d":75,"D":75,"e":80.5,"E":85.5},
{"i":21447,"a":1,"A":4,"B":22,"C":90.5,"d":75,"D":92.5,"e":75,"E":89},
{"i":21560,"a":1,"A":4,"B":22,"C":90.5,"d":75,"D":92.5,"e":75,"E":89},
{"i":21595,"a":4,"A":4,"B":53,"C":53,"d":75,"D":75,"e":80.5,"E":85.5},
{"i":21630,"a":1,"A":4,"B":24,"C":91,"d":75,"D":93,"e":75,"E":89},
{"i":21743,"a":1,"A":4,"B":24,"C":91,"d":75,"D":93,"e":75,"E":89},
{"i":21778,"a":4.5,"A":4.5,"B":56,"C":56,"d":75,"D":75,"e":80.5,"E":85.5},
{"i":21813,"a":1,"A":4.5,"B":26,"C":91.5,"d":76,"D":93.5,"e":75,"E":89},
{"i":21926,"a":1,"A":4.5,"B":26,"C":91.5,"d":76,"D":93.5,"e":75,"E":89},

{"i":21961,"a":2,"A":2,"B":22,"C":22,"d":77.5,"D":77.5,"e":82.5,"E":87},
{"i":21996,"a":0,"A":2,"B":6,"C":83,"d":71,"D":88.5,"e":77.5,"E":90},
{"i":22109,"a":0,"A":2,"B":6,"C":83,"d":71,"D":88.5,"e":77.5,"E":90},
{"i":22144,"a":2,"A":2,"B":26,"C":26,"d":77.5,"D":77.5,"e":82.5,"E":87},
{"i":22179,"a":0,"A":2,"B":8,"C":84,"d":72,"D":89,"e":77.5,"E":90},
{"i":22292,"a":0,"A":2,"B":8,"C":84,"d":72,"D":89,"e":77.5,"E":90},
{"i":22327,"a":2,"A":2,"B":29,"C":29,"d":77.5,"D":77.5,"e":82.5,"E":87},
{"i":22362,"a":0,"A":2,"B":10,"C":84,"d":72,"D":89.5,"e":77.5,"E":90},
{"i":22475,"a":0,"A":2,"B":10,"C":84,"d":72,"D":89.5,"e":77.5,"E":90},
{"i":22510,"a":2.5,"A":2.5,"B":33,"C":33,"d":77.5,"D":77.5,"e":82.5,"E":87},
{"i":22545,"a":0,"A":2.5,"B":12,"C":85,"d":73,"D":90,"e":77.5,"E":90},
{"i":22658,"a":0,"A":2.5,"B":12,"C":85,"d":73,"D":90,"e":77.5,"E":90},
{"i":22693,"a":2.5,"A":2.5,"B":37,"C":37,"d":77.5,"D":77.5,"e":82.5,"E":87},
{"i":22728,"a":0.5,"A":2.5,"B":14,"C":86,"d":74,"D":90.5,"e":77.5,"E":90},
{"i":22841,"a":0.5,"A":2.5,"B":14,"C":86,"d":74,"D":90.5,"e":77.5,"E":90},
{"i":22876,"a":3,"A":3,"B":40,"C":40,"d":77.5,"D":77.5,"e":82.5,"E":87},
{"i":22911,"a":0.5,"A":3,"B":16,"C":87,"d":74,"D":91,"e":77.5,"E":90},
{"i":23024,"a":0.5,"A":3,"B":16,"C":87,"d":74,"D":91,"e":77.5,"E":90},
{"i":23059,"a":3,"A":3,"B":44,"C":44,"d":77.5,"D":77.5,"e":82.5,"E":87},
{"i":23094,"a":0.5,"A":3,"B":18,"C":89,"d":75,"D":91.5,"e":77.5,"E":90},
{"i":23207,"a":0.5,"A":3,"B":18,"C":89,"d":75,"D":91.5,"e":77.5,"E":90},
{"i":23242,"a":3.5,"A":3.5,"B":47,"C":47,"d":77.5,"D":77.5,"e":82.5,"E":87},
{"i":23277,"a":0.5,"A":3.5,"B":20,"C":90,"d":76,"D":92.5,"e":77.5,"E":90},
{"i":23390,"a":0.5,"A":3.5,"B":20,"C":90,"d":76,"D":92.5,"e":77.5,"E":90},
{"i":23425,"a":3.5,"A":3.5,"B":51,"C":51,"d":77.5,"D":77.5,"e":82.5,"E":87},
{"i":23460,"a":1,"A":3.5,"B":22,"C":90,"d":76,"D":93,"e":77.5,"E":90},
{"i":23573,"a":1,"A":3.5,"B":22,"C":90,"d":76,"D":93,"e":77.5,"E":90},
{"i":23608,"a":4,"A":4,"B":55,"C":55,"d":77.5,"D":77.5,"e":82.5,"E":87},
{"i":23643,"a":1,"A":4,"B":24,"C":91,"d":77,"D":93.5,"e":77.5,"E":90},
{"i":23756,"a":1,"A":4,"B":24,"C":91,"d":77,"D":93.5,"e":77.5,"E":90},
{"i":23791,"a":4,"A":4,"B":58,"C":58,"d":77.5,"D":77.5,"e":82.5,"E":87},
{"i":23826,"a":1,"A":4,"B":26,"C":91,"d":78,"D":94,"e":77.5,"E":90},
{"i":23939,"a":1,"A":4,"B":26,"C":91,"d":78,"D":94,"e":77.5,"E":90},
{"i":23974,"a":4.5,"A":4.5,"B":62,"C":62,"d":77.5,"D":77.5,"e":82.5,"E":87},
{"i":24009,"a":1,"A":4.5,"B":28,"C":92,"d":79,"D":94.5,"e":77.5,"E":90},
{"i":24122,"a":1,"A":4.5,"B":28,"C":92,"d":79,"D":94.5,"e":77.5,"E":90},

{"i":24157,"a":2,"A":2,"B":22,"C":22,"d":80,"D":80,"e":84.5,"E":88.5},
{"i":24192,"a":0,"A":2,"B":6,"C":86,"d":74,"D":90,"e":80,"E":91.5},
{"i":24305,"a":0,"A":2,"B":6,"C":86,"d":74,"D":90,"e":80,"E":91.5},
{"i":24340,"a":2,"A":2,"B":26,"C":26,"d":80,"D":80,"e":84.5,"E":88.5},
{"i":24375,"a":0,"A":2,"B":8,"C":86,"d":75,"D":91,"e":80,"E":91.5},
{"i":24488,"a":0,"A":2,"B":8,"C":86,"d":75,"D":91,"e":80,"E":91.5},
{"i":24523,"a":2,"A":2,"B":30,"C":30,"d":80,"D":80,"e":84.5,"E":88.5},
{"i":24558,"a":0,"A":2,"B":10,"C":87,"d":75,"D":91.5,"e":80,"E":91.5},
{"i":24671,"a":0,"A":2,"B":10,"C":87,"d":75,"D":91.5,"e":80,"E":91.5},
{"i":24706,"a":2.5,"A":2.5,"B":33,"C":33,"d":80,"D":80,"e":84.5,"E":88.5},
{"i":24741,"a":0,"A":2.5,"B":13,"C":87,"d":76,"D":92,"e":80,"E":91.5},
{"i":24854,"a":0,"A":2.5,"B":13,"C":87,"d":76,"D":92,"e":80,"E":91.5},
{"i":24889,"a":2.5,"A":2.5,"B":37,"C":37,"d":80,"D":80,"e":84.5,"E":88.5},
{"i":24924,"a":0.5,"A":2.5,"B":15,"C":88,"d":77,"D":92,"e":80,"E":91.5},
{"i":25037,"a":0.5,"A":2.5,"B":15,"C":88,"d":77,"D":92,"e":80,"E":91.5},
{"i":25072,"a":3,"A":3,"B":41,"C":41,"d":80,"D":80,"e":84.5,"E":88.5},
{"i":25107,"a":0.5,"A":3,"B":17,"C":89,"d":77,"D":92.5,"e":80,"E":91.5},
{"i":25220,"a":0.5,"A":3,"B":17,"C":89,"d":77,"D":92.5,"e":80,"E":91.5},
{"i":25255,"a":3,"A":3,"B":45,"C":45,"d":80,"D":80,"e":84.5,"E":88.5},
{"i":25290,"a":0.5,"A":3,"B":19,"C":90,"d":78,"D":92.5,"e":80,"E":91.5},
{"i":25403,"a":0.5,"A":3,"B":19,"C":90,"d":78,"D":92.5,"e":80,"E":91.5},
{"i":25438,"a":3.5,"A":3.5,"B":49,"C":49,"d":80,"D":80,"e":84.5,"E":88.5},
{"i":25473,"a":0.5,"A":3.5,"B":21,"C":90,"d":78,"D":93,"e":80,"E":91.5},
{"i":25586,"a":0.5,"A":3.5,"B":21,"C":90,"d":78,"D":93,"e":80,"E":91.5},
{"i":25621,"a":3.5,"A":3.5,"B":53,"C":53,"d":80,"D":80,"e":84.5,"E":88.5},
{"i":25656,"a":1,"A":3.5,"B":23,"C":91,"d":79,"D":93.5,"e":80,"E":91.5},
{"i":25769,"a":1,"A":3.5,"B":23,"C":91,"d":79,"D":93.5,"e":80,"E":91.5},
{"i":25804,"a":4,"A":4,"B":56,"C":56,"d":80,"D":80,"e":84.5,"E":88.5},
{"i":25839,"a":1,"A":4,"B":26,"C":91,"d":80,"D":94,"e":80,"E":91.5},
{"i":25952,"a":1,"A":4,"B":26,"C":91,"d":80,"D":94,"e":80,"E":91.5},
{"i":25987,"a":4,"A":4,"B":60,"C":60,"d":80,"D":80,"e":84.5,"E":88.5},
{"i":26022,"a":1,"A":4,"B":28,"C":92,"d":80,"D":94.5,"e":80,"E":91.5},
{"i":26135,"a":1,"A":4,"B":28,"C":92,"d":80,"D":94.5,"e":80,"E":91.5},
{"i":26170,"a":4.5,"A":4.5,"B":64,"C":64,"d":80,"D":80,"e":84.5,"E":88.5},
{"i":26205,"a":1,"A":4.5,"B":30,"C":92,"d":81,"D":95,"e":80,"E":91.5},
{"i":26318,"a":1,"A":4.5,"B":30,"C":92,"d":81,"D":95,"e":80,"E":91.5},

{"i":26353,"a":2,"A":2,"B":22,"C":22,"d":82,"D":82,"e":86,"E":90},
{"i":26388,"a":0,"A":2,"B":6,"C":89,"d":77,"D":91,"e":82,"E":92.5},
{"i":26501,"a":0,"A":2,"B":6,"C":89,"d":77,"D":91,"e":82,"E":92.5},
{"i":26536,"a":2,"A":2,"B":25,"C":25,"d":82,"D":82,"e":86,"E":90},
{"i":26571,"a":0,"A":2,"B":8,"C":89,"d":78,"D":92,"e":82,"E":92.5},
{"i":26684,"a":0,"A":2,"B":8,"C":89,"d":78,"D":92,"e":82,"E":92.5},
{"i":26719,"a":2,"A":2,"B":28,"C":28,"d":82,"D":82,"e":86,"E":90},
{"i":26754,"a":0,"A":2,"B":11,"C":90,"d":78,"D":92.5,"e":82,"E":92.5},
{"i":26867,"a":0,"A":2,"B":11,"C":90,"d":78,"D":92.5,"e":82,"E":92.5},
{"i":26902,"a":2.5,"A":2.5,"B":31,"C":31,"d":82,"D":82,"e":86,"E":90},
{"i":26937,"a":0,"A":2.5,"B":13,"C":90,"d":79,"D":93,"e":82,"E":92.5},
{"i":27050,"a":0,"A":2.5,"B":13,"C":90,"d":79,"D":93,"e":82,"E":92.5},
{"i":27085,"a":2.5,"A":2.5,"B":34,"C":34,"d":82,"D":82,"e":86,"E":90},
{"i":27120,"a":0.5,"A":2.5,"B":15,"C":90,"d":79,"D":93,"e":82,"E":92.5},
{"i":27233,"a":0.5,"A":2.5,"B":15,"C":90,"d":79,"D":93,"e":82,"E":92.5},
{"i":27268,"a":3,"A":3,"B":37,"C":37,"d":82,"D":82,"e":86,"E":90},
{"i":27303,"a":0.5,"A":3,"B":18,"C":90,"d":80,"D":93.5,"e":82,"E":92.5},
{"i":27416,"a":0.5,"A":3,"B":18,"C":90,"d":80,"D":93.5,"e":82,"E":92.5},
{"i":27451,"a":3,"A":3,"B":40,"C":40,"d":82,"D":82,"e":86,"E":90},
{"i":27486,"a":0.5,"A":3,"B":20,"C":90,"d":80,"D":94,"e":82,"E":92.5},
{"i":27599,"a":0.5,"A":3,"B":20,"C":90,"d":80,"D":94,"e":82,"E":92.5},
{"i":27634,"a":3.5,"A":3.5,"B":43,"C":43,"d":82,"D":82,"e":86,"E":90},
{"i":27669,"a":0.5,"A":3.5,"B":22,"C":91,"d":81,"D":94.5,"e":82,"E":92.5},
{"i":27782,"a":0.5,"A":3.5,"B":22,"C":91,"d":81,"D":94.5,"e":82,"E":92.5},
{"i":27817,"a":3.5,"A":3.5,"B":46,"C":46,"d":82,"D":82,"e":86,"E":90},
{"i":27852,"a":1,"A":3.5,"B":25,"C":91,"d":81,"D":94.5,"e":82,"E":92.5},
{"i":27965,"a":1,"A":3.5,"B":25,"C":91,"d":81,"D":94.5,"e":82,"E":92.5},
{"i":28000,"a":4,"A":4,"B":49,"C":49,"d":82,"D":82,"e":86,"E":90},
{"i":28035,"a":1,"A":4,"B":27,"C":92,"d":82,"D":95,"e":82,"E":92.5},
{"i":28148,"a":1,"A":4,"B":27,"C":92,"d":82,"D":95,"e":82,"E":92.5},
{"i":28183,"a":4,"A":4,"B":52,"C":52,"d":82,"D":82,"e":86,"E":90},
{"i":28218,"a":1,"A":4,"B":29,"C":92,"d":82,"D":95,"e":82,"E":92.5},
{"i":28331,"a":1,"A":4,"B":29,"C":92,"d":82,"D":95,"e":82,"E":92.5},
{"i":28366,"a":4.5,"A":4.5,"B":55,"C":55,"d":82,"D":82,"e":86,"E":90},
{"i":28401,"a":1,"A":4.5,"B":32,"C":92,"d":83,"D":95.5,"e":82,"E":92.5},
{"i":28548,"a":1,"A":4.5,"B":32,"C":92,"d":83,"D":95.5,"e":82,"E":92.5}
  ]},
  "encoding": {
    "x": {
      "field": "i",
      "type": "quantitative",
      "scale": {"domain": [1, 28548], "nice": false, "zero": false},
      "axis": {
        "title": null,
        "values": [1,404,807,1210,1613,2016,2419,2822,3225,3628,4031,4434,4837,5240,5643,6046,6449,6852,7255,7658,8061,8464,8867,9270,9673,10076,10479,10882,11285,11688,12091,12494,12897,13300,13703,14106,14509,14912,15315,15718,16121,16524,16927,17330,17733,18136,18539,18942,19345,19748,20151,20554,20957,21360,21763,22166,22569,22972,23375,23778,24181,24584,24987,25390,25793,26196,26599,27002,27405,27808,28211],
        "format": "d",
        "labelAngle": -90,
        "labelFontSize": 10.5,
        "labelColor": "#595959",
        "labelPadding": 4,
        "labelFlush": false,
        "labelOverlap": false,
        "ticks": false,
        "grid": false,
        "domainColor": "#D9D9D9"
      }
    }
  },
  "layer": [
    {
      "transform": [{"filter": "datum.i < 0"}],
      "mark": {"type": "line", "strokeWidth": 3},
      "encoding": {
        "y": {"field": "a", "type": "quantitative", "title": null, "scale": {"domain": [0, 100], "nice": false}},
        "stroke": {
          "datum": "0.5 kHz",
          "scale": {"domain": ["0.5 kHz", "1.0 kHz", "2.0 kHz", "4.0 kHz", "8.0 kHz"], "range": ["#5B9BD5", "#ED7D31", "#A5A5A5", "#FFC000", "#4472C4"]},
          "legend": {
            "title": null, "orient": "none", "legendX": 319, "legendY": 484, "direction": "horizontal", "columns": 5,
            "symbolType": "stroke", "symbolSize": 784, "symbolStrokeWidth": 3,
            "labelFontSize": 10.5, "labelColor": "#595959", "labelOffset": 2, "columnPadding": 13, "padding": 0
          }
        }
      }
    },
    {
      "mark": {"type": "area", "opacity": 1},
      "encoding": {
        "y": {"field": "a", "type": "quantitative", "title": null, "scale": {"domain": [0, 100], "nice": false},
          "axis": {"values": [0,10,20,30,40,50,60,70,80,90,100], "labelExpr": "datum.value == 0 ? '00%' : datum.value + '%'", "grid": true, "gridColor": "#D9D9D9", "domain": false, "ticks": false, "labelPadding": 10, "labelFontSize": 10.5, "labelColor": "#595959"}},
        "y2": {"field": "A"},
        "fill": {
          "datum": "0.5 kHz",
          "scale": {"domain": ["0.5 kHz", "1.0 kHz", "2.0 kHz", "4.0 kHz", "8.0 kHz"], "range": ["#5B9BD5", "#ED7D31", "#A5A5A5", "#FFC000", "#4472C4"]},
          "legend": null
        }
      }
    },
    {
      "mark": {"type": "area", "opacity": 1},
      "encoding": {
        "y": {"field": "A", "type": "quantitative", "title": null, "scale": {"domain": [0, 100], "nice": false}},
        "y2": {"field": "B"},
        "fill": {"datum": "1.0 kHz", "legend": null}
      }
    },
    {
      "mark": {"type": "area", "opacity": 1},
      "encoding": {
        "y": {"field": "B", "type": "quantitative", "title": null, "scale": {"domain": [0, 100], "nice": false}},
        "y2": {"field": "C"},
        "fill": {"datum": "2.0 kHz", "legend": null}
      }
    },
    {
      "mark": {"type": "area", "opacity": 1},
      "encoding": {
        "y": {"field": "d", "type": "quantitative", "title": null, "scale": {"domain": [0, 100], "nice": false}},
        "y2": {"field": "D"},
        "fill": {"datum": "4.0 kHz", "legend": null}
      }
    },
    {
      "mark": {"type": "area", "opacity": 1},
      "encoding": {
        "y": {"field": "e", "type": "quantitative", "title": null, "scale": {"domain": [0, 100], "nice": false}},
        "y2": {"field": "E"},
        "fill": {"datum": "8.0 kHz", "legend": null}
      }
    }
  ],
  "config": {
    "font": "Lato",
    "view": {"stroke": null},
    "axis": {"labelFont": "Lato"},
    "legend": {"labelFont": "Lato"}
  }
}
